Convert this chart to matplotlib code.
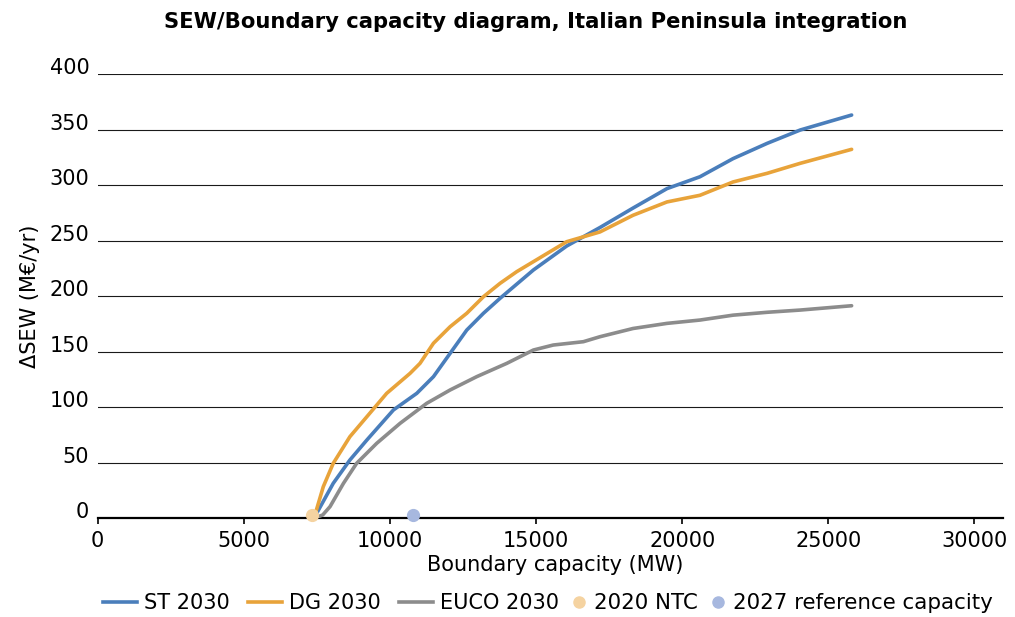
import matplotlib
matplotlib.use("Agg")
import matplotlib.pyplot as plt
from matplotlib.lines import Line2D

# ---- data ----
st_x = [7400, 8060, 8630, 9210, 10120, 10920, 11490, 12060, 12630, 13200, 13770,
        14910, 16050, 17190, 18320, 19480, 20610, 21740, 22910, 24040, 25800]
st_y = [0, 31.5, 52.5, 70.5, 97.6, 112.6, 127.6, 148.6, 169.6, 184.7, 198.2,
        223.7, 245.3, 262, 279.5, 297, 307.7, 324, 337.8, 349.8, 363.3]

dg_x = [7400, 7720, 8060, 8630, 9210, 9890, 10690, 11030, 11490, 12060, 12630, 13200,
        13770, 14340, 14910, 16050, 17190, 18320, 19480, 20610, 21740, 22910, 24040, 25800]
dg_y = [0, 28.5, 49.5, 73.5, 91.5, 112.6, 130.6, 139.6, 157.7, 172.6, 184.7, 199.6,
        211.7, 222.2, 231.2, 249.2, 258, 273, 285, 291, 303, 310.8, 319.8, 332.4]

euco_x = [7400, 7700, 7950, 8410, 8860, 9550, 10350, 11260, 12060, 12970, 14000, 14910,
          15590, 16620, 17190, 18320, 19480, 20610, 21740, 22910, 24040, 25800]
euco_y = [0, 3, 10.5, 31.5, 49.5, 67.6, 85.6, 103.6, 115.6, 127.6, 139.6, 151.6,
          156.1, 159.1, 163.6, 171, 175.6, 178.6, 183, 185.6, 187.6, 191.5]

ntc2020_x = [7330]
ntc2020_y = [3]
ref2027_x = [10780]
ref2027_y = [3]

x_ticks = [0, 5000, 10000, 15000, 20000, 25000, 30000]
y_ticks = [0, 50, 100, 150, 200, 250, 300, 350, 400]

series_names = ["ST 2030", "DG 2030", "EUCO 2030", "2020 NTC", "2027 reference capacity"]
c_st, c_dg, c_eu = "#4a7ebb", "#e8a33a", "#8c8c8c"
c_ntc, c_ref = "#f5d3a1", "#a7b8df"

plt.rcParams['font.family'] = ['DejaVu Sans']

fig = plt.figure(figsize=(10.15, 6.17), dpi=100)
ax = fig.add_axes([97.7 / 1015, 1 - 518.3 / 617, (1002.7 - 97.7) / 1015, (518.3 - 74.3) / 617])

lw = 2.6
kw = dict(lw=lw, solid_capstyle='round', solid_joinstyle='round', zorder=3)
ax.plot(st_x, st_y, color=c_st, **kw)
ax.plot(dg_x, dg_y, color=c_dg, **kw)
ax.plot(euco_x, euco_y, color=c_eu, **kw)
ax.plot(ntc2020_x, ntc2020_y, 'o', color=c_ntc, ms=8.5, zorder=4, clip_on=False)
ax.plot(ref2027_x, ref2027_y, 'o', color=c_ref, ms=8.5, zorder=4, clip_on=False)

ax.set_xlim(0, 30970)
ax.set_ylim(0, 400)
ax.set_xticks(x_ticks)
ax.set_xticklabels([str(v) for v in x_ticks])
ax.set_yticks(y_ticks)
ax.set_yticklabels([str(v) for v in y_ticks])

ax.grid(axis='y', color='#1a1a1a', lw=0.8)
ax.set_axisbelow(True)
for s in ['top', 'right', 'left']:
    ax.spines[s].set_visible(False)
ax.spines['bottom'].set_color('black')
ax.spines['bottom'].set_linewidth(1.6)
ax.spines['bottom'].set_zorder(2)

ax.tick_params(axis='x', length=4, width=1.2, direction='out', pad=5, labelsize=15)
ax.tick_params(axis='y', length=0, pad=6, labelsize=15)
for lab in ax.get_yticklabels():
    lab.set_va('baseline')

fig.text(536 / 1015, 1 - 22 / 617, "SEW/Boundary capacity diagram, Italian Peninsula integration",
         ha='center', va='center', fontsize=15.2, fontweight='bold')
fig.text(555 / 1015, 1 - 565 / 617, "Boundary capacity (MW)", ha='center', va='center', fontsize=15)
fig.text(30 / 1015, 1 - 296 / 617, "\u0394SEW (M\u20ac/yr)", ha='center', va='center',
         rotation=90, fontsize=15)

line_handles = [
    Line2D([], [], color=c_st, lw=lw),
    Line2D([], [], color=c_dg, lw=lw),
    Line2D([], [], color=c_eu, lw=lw),
]
dot_handles = [
    Line2D([], [], color=c_ntc, marker='o', ls='none', ms=8),
    Line2D([], [], color=c_ref, marker='o', ls='none', ms=8),
]
leg_y = 1 - 603 / 617
fig.legend(line_handles, series_names[:3], loc='center left',
           bbox_to_anchor=(103 / 1015, leg_y), ncol=3, frameon=False, fontsize=15,
           handlelength=1.63, handletextpad=0.36, columnspacing=0.85,
           borderaxespad=0, borderpad=0)
fig.legend(dot_handles, series_names[3:], loc='center left',
           bbox_to_anchor=(570 / 1015, leg_y), ncol=2, frameon=False, fontsize=15.4,
           handlelength=0.8, handletextpad=0.3, columnspacing=0.55,
           borderaxespad=0, borderpad=0)

fig.savefig("out.png", dpi=100)
